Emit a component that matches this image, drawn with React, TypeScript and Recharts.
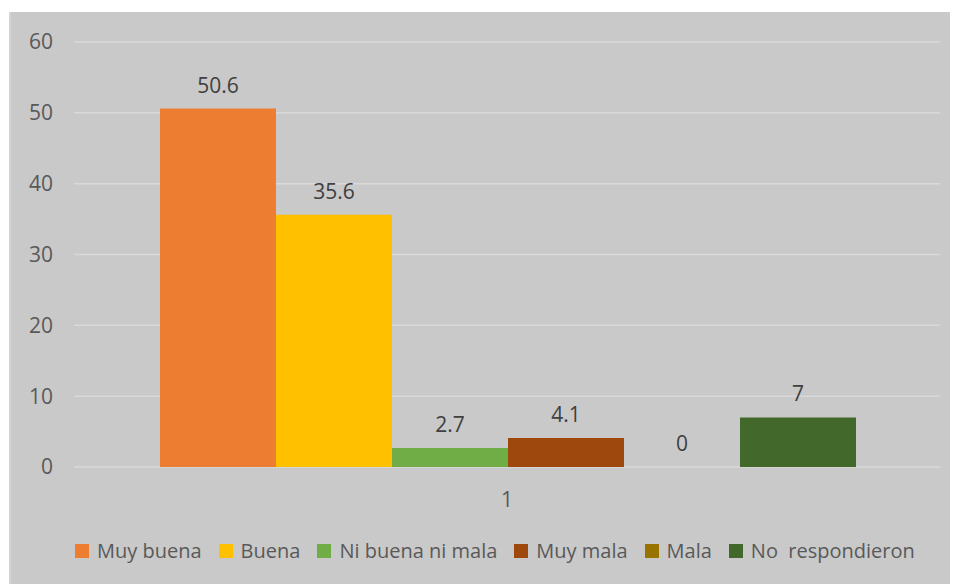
import React from "react";
import { Bar, BarChart, CartesianGrid, Legend, XAxis, YAxis } from "recharts";

const categories = ["1"];
const seriesNames = ["Muy buena", "Buena", "Ni buena ni mala", "Muy mala", "Mala", "No  respondieron"];
const seriesValues = [50.6, 35.6, 2.7, 4.1, 0, 7];
const seriesColors = ["#ED7D31", "#FFC000", "#70AD47", "#9E480E", "#997300", "#43682B"];
const yTicks = [0, 10, 20, 30, 40, 50, 60];

const keys = seriesNames.map((_, i) => `s${i}`);
const data = categories.map((name) => {
  const row: Record<string, string | number> = { name };
  keys.forEach((k, i) => {
    row[k] = seriesValues[i];
  });
  return row;
});

const FONT = "'Open Sans', sans-serif";

// value label above each bar (also drawn for zero-height bars)
function renderLabel(props: any) {
  const { x, y, width, value } = props;
  if (value === undefined || value === null) return null;
  return (
    <text
      x={Number(x) + Number(width) / 2}
      y={Number(y) - 16}
      textAnchor="middle"
      fill="#404040"
      fontSize={21}
      fontFamily={FONT}
    >
      {value}
    </text>
  );
}

// zero bars get a hairline height so recharts still emits their label
const zeroSize = (value: any) => (Number(value) === 0 ? 0.01 : 0);

function ChartLegend() {
  return (
    <div style={{ display: "flex", alignItems: "center", paddingLeft: 64, fontFamily: FONT, fontSize: 20, color: "#595959" }}>
      {seriesNames.map((n, i) => (
        <div key={n} style={{ display: "flex", alignItems: "center", marginRight: 17 }}>
          <span style={{ width: 14, height: 14, background: seriesColors[i], marginRight: 8, display: "inline-block" }} />
          <span style={{ whiteSpace: "pre" }}>{n}</span>
        </div>
      ))}
    </div>
  );
}

export default function App() {
  return (
    <div style={{ paddingTop: 4, paddingLeft: 1 }}>
      <div style={{ width: 949, height: 572, background: "#c9c9c9", borderLeft: "2px solid #d4d4d4", boxSizing: "border-box" }}>
        <BarChart
          width={947}
          height={572}
          data={data}
          margin={{ top: 30, right: 18, left: 0, bottom: 20 }}
          barCategoryGap={86}
          barGap={0}
        >
          <CartesianGrid vertical={false} stroke="#d9d9d9" strokeWidth={1.5} />
          <XAxis
            dataKey="name"
            axisLine={false}
            tickLine={false}
            tickSize={0}
            tickMargin={25}
            height={70}
            tick={{ fill: "#595959", fontSize: 21, fontFamily: FONT }}
          />
          <YAxis
            domain={[0, 60]}
            ticks={yTicks}
            axisLine={false}
            tickLine={false}
            tickSize={0}
            tickMargin={21}
            width={63}
            tick={{ fill: "#595959", fontSize: 21, fontFamily: FONT }}
          />
          <Legend verticalAlign="bottom" content={<ChartLegend />} />
          {keys.map((k, i) => (
            <Bar
              key={k}
              dataKey={k}
              name={seriesNames[i]}
              fill={seriesColors[i]}
              isAnimationActive={false}
              minPointSize={zeroSize}
              label={renderLabel}
            />
          ))}
        </BarChart>
      </div>
    </div>
  );
}
